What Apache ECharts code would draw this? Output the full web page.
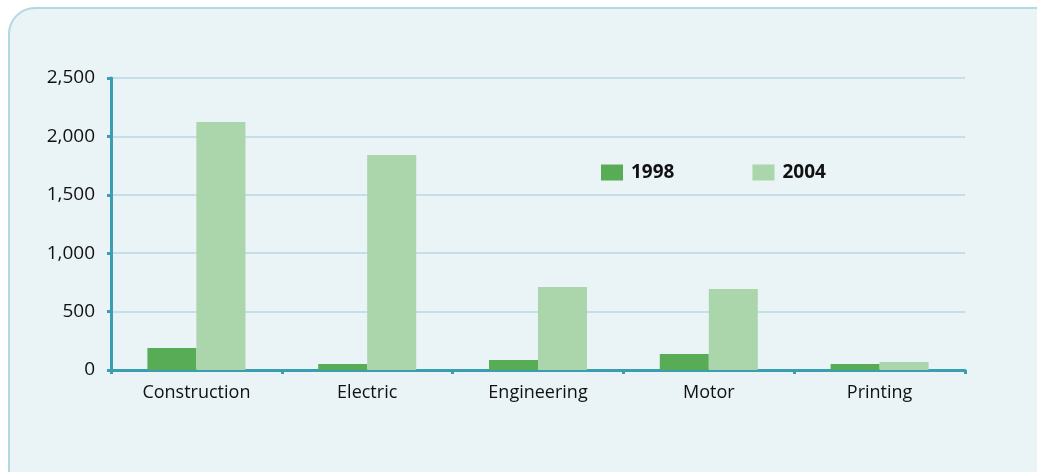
<!DOCTYPE html>
<html>
<head>
<meta charset="utf-8">
<script src="https://cdn.jsdelivr.net/npm/echarts@6/dist/echarts.min.js"></script>
<style>
  html, body { margin: 0; padding: 0; background: #ffffff; }
  #chart { width: 1037px; height: 472px; }
</style>
</head>
<body>
<div id="chart"></div>
<script>
var categories = ["Construction", "Electric", "Engineering", "Motor", "Printing"];
var values1998 = [188, 51, 86, 137, 51];
var values2004 = [2123, 1841, 711, 693, 68];
var yTicks = [0, 500, 1000, 1500, 2000, 2500];

var axisColor = "#3a9db1";
var gridColor = "#c3e0e7";

var myChart = echarts.init(document.getElementById("chart"));

var option = {
  animation: false,
  backgroundColor: "#ffffff",
  textStyle: { fontFamily: "Open Sans" },
  graphic: [
    {
      type: "rect",
      z: -10,
      shape: { x: 9, y: 8, width: 1060, height: 490, r: 26 },
      style: { fill: "#eaf3f6", stroke: "#b2d9e1", lineWidth: 2 }
    }
  ],
  legend: {
    left: 596,
    top: 158,
    itemWidth: 22,
    itemHeight: 16,
    itemGap: 78,
    icon: "rect",
    textStyle: { fontSize: 19, fontWeight: "bold", color: "#111", padding: [0, 0, 0, 3] },
    data: ["1998", "2004"]
  },
  grid: {
    left: 111,
    right: 72,
    top: 78,
    bottom: 102
  },
  xAxis: {
    type: "category",
    data: categories,
    axisLine: { lineStyle: { color: axisColor, width: 3 } },
    axisTick: { show: true, length: 4, lineStyle: { color: axisColor, width: 3 } },
    axisLabel: { fontSize: 18, color: "#111", margin: 14 }
  },
  yAxis: {
    type: "value",
    min: yTicks[0],
    max: yTicks[yTicks.length - 1],
    interval: 500,
    axisLine: { show: true, lineStyle: { color: axisColor, width: 3 } },
    axisTick: { show: true, length: 4, lineStyle: { color: axisColor, width: 3 } },
    splitLine: { lineStyle: { color: gridColor, width: 2 } },
    axisLabel: {
      fontSize: 19,
      color: "#111",
      margin: 16,
      formatter: function (v) {
        return v.toLocaleString("en-US");
      }
    }
  },
  series: [
    {
      name: "1998",
      type: "bar",
      data: values1998,
      barWidth: 49,
      barGap: "0%",
      itemStyle: { color: "#58ac55" }
    },
    {
      name: "2004",
      type: "bar",
      data: values2004,
      barWidth: 49,
      itemStyle: { color: "#abd5aa" }
    }
  ]
};

myChart.setOption(option);
</script>
</body>
</html>
